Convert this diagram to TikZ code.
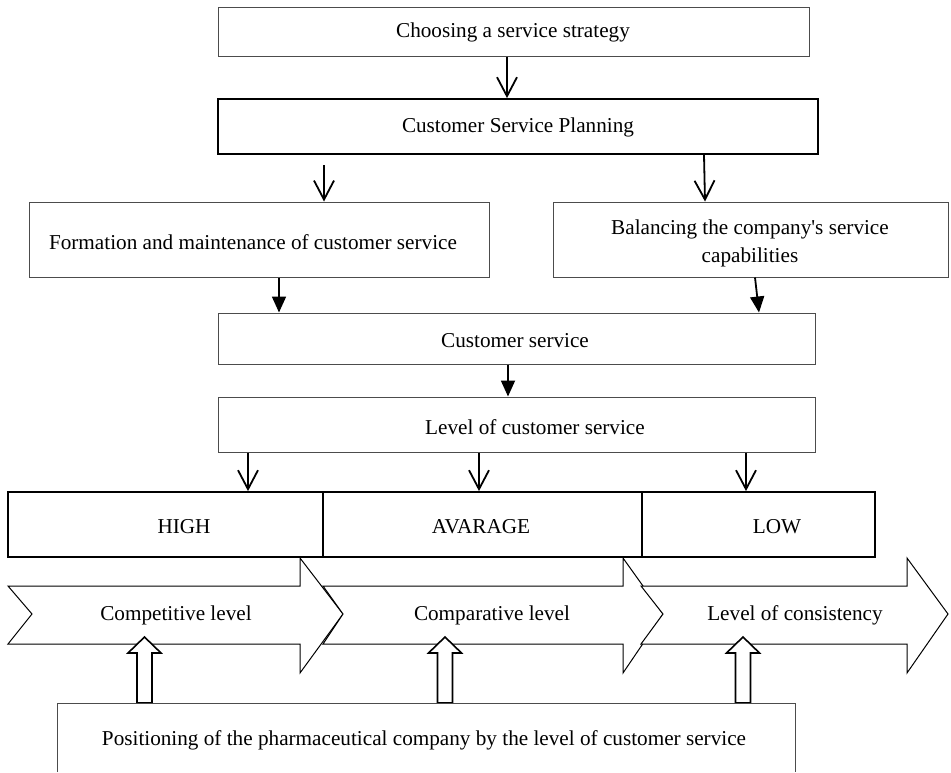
\documentclass[tikz,border=0pt]{standalone}
\usepackage{fontspec}
\setmainfont{Liberation Serif}[Ligatures=TeXOff]
\usetikzlibrary{arrows.meta}
\begin{document}
\begin{tikzpicture}[x=1pt,y=-1pt,
  txt/.style={font=\fontsize{21.2}{28}\selectfont, inner sep=0pt, align=center, yshift=-2.5pt},
  thinbox/.style={draw=black!70, line width=1pt, inner sep=0pt},
  boldbox/.style={draw=black, line width=1.8pt, inner sep=0pt},
  vflow/.style={line width=1.8pt, -{Straight Barb[length=19pt,width=20pt,line width=1.8pt]}},
  sflow/.style={line width=1.8pt, -{Triangle[length=16pt,width=14pt]}},
  chevron/.style={draw=black, line width=1pt, fill=white, line join=miter},
  uparrow/.style={draw=black, line width=1.6pt, fill=white, line join=miter}
]
\useasboundingbox (0,0) rectangle (951,772);

% upper chain of boxes
\node[thinbox, minimum width=591, minimum height=49] (strategy) at (513.5,31.5) {};
\node[txt] (strategyT) at (513,30) {Choosing a service strategy};
\node[boldbox, minimum width=600, minimum height=55] (planning) at (518,126.5) {};
\node[txt] (planningT) at (518,125) {Customer Service Planning};
\node[thinbox, minimum width=460, minimum height=75] (maint) at (259,239.5) {};
\node[txt] (maintT) at (253,240) {Formation and maintenance of customer service};
\node[thinbox, minimum width=395, minimum height=75] (balance) at (750.5,239.5) {};
\node[txt] (balanceT) at (750,241) {Balancing the company's service\\capabilities};
\node[thinbox, minimum width=597, minimum height=51] (custsvc) at (516.5,338.5) {};
\node[txt] (custsvcT) at (515,338) {Customer service};
\node[thinbox, minimum width=597, minimum height=55] (level) at (516.5,424.5) {};
\node[txt] (levelT) at (535,425) {Level of customer service};

% level row
\node[boldbox, minimum width=315, minimum height=65] (high) at (165.5,524.5) {};
\node[boldbox, minimum width=319, minimum height=65] (avg) at (482.5,524.5) {};
\node[boldbox, minimum width=233, minimum height=65] (low) at (758.5,524.5) {};
\node[txt] (highT) at (184,524) {HIGH};
\node[txt] (avgT) at (481,524) {AVARAGE};
\node[txt] (lowT) at (777,524) {LOW};

% connectors
\coordinate (a2s) at (324,165);
\draw[vflow] (507,0 |- strategy.south) -- (507,0 |- planning.north);
\draw[vflow] (a2s) -- (324,0 |- maint.north);
\draw[vflow] (704,0 |- planning.south) -- (705,0 |- balance.north);
\draw[sflow] (279,0 |- maint.south) -- (279,0 |- custsvc.north);
\draw[sflow] (755,0 |- balance.south) -- (759,0 |- custsvc.north);
\draw[sflow] (508,0 |- custsvc.south) -- (508,0 |- level.north);
\draw[vflow] (248,0 |- level.south) -- (248,0 |- high.north);
\draw[vflow] (479,0 |- level.south) -- (479,0 |- avg.north);
\draw[vflow] (746,0 |- level.south) -- (746,0 |- low.north);

% chevrons
\draw[chevron] (8,586) -- (300,586) -- (300,558) -- (343,614) -- (300,673)
  -- (300,644) -- (8,644) -- (32,614) -- cycle;
\draw[chevron] (323,586) -- (623,586) -- (623,558) -- (663,614) -- (623,673)
  -- (623,644) -- (323,644) -- (343,614) -- cycle;
\draw[chevron] (641,586) -- (907,586) -- (907,558) -- (948,614) -- (907,673)
  -- (907,644) -- (641,644) -- (663,614) -- cycle;
\node[txt] (compT) at (176,613) {Competitive level};
\node[txt] (compaT) at (492,613) {Comparative level};
\node[txt] (consT) at (795,613) {Level of consistency};

% block arrows rising from the positioning box
\foreach \cx [count=\i] in {144.5,445,743}{
  \draw[uparrow] (\cx-7.5,703) -- (\cx-7.5,653) -- (\cx-16.5,653) -- (\cx,637)
    -- (\cx+16.5,653) -- (\cx+7.5,653) -- (\cx+7.5,703) -- cycle;
}

% positioning box, open at the lower edge
\draw[draw=black!70, line width=1pt] (57,772) -- (57,703) -- (795,703) -- (795,772);
\node[txt] (posT) at (424,738) {Positioning of the pharmaceutical company by the level of customer service};
\end{tikzpicture}
\end{document}
